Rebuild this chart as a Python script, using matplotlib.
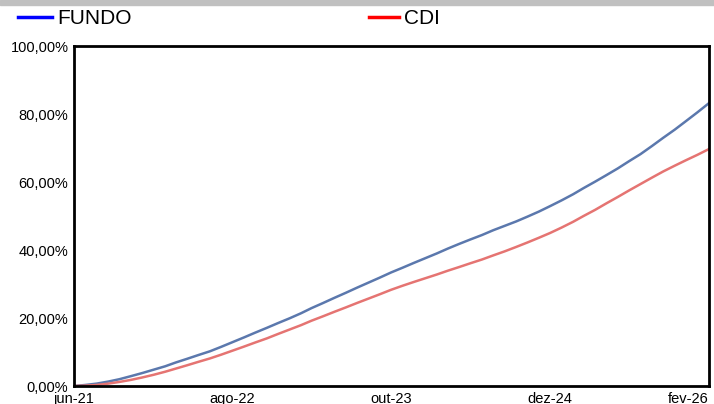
import numpy as np
import pandas as pd
import matplotlib
matplotlib.use('Agg')
import matplotlib.pyplot as plt
from matplotlib.lines import Line2D
from matplotlib.ticker import FuncFormatter

plt.rcParams['font.family'] = ['Liberation Sans', 'DejaVu Sans']

# retorno acumulado mensal (%), jun-21 ate fev-26
meses = pd.date_range('2021-06-01', '2026-02-01', freq='MS')
fundo = [0.0, 0.3, 0.7, 1.3, 2.0, 2.9, 3.8, 4.8, 5.8, 6.9,
         8.0, 9.1, 10.2, 11.5, 12.9, 14.3, 15.7, 17.1, 18.5, 19.9,
         21.4, 22.9, 24.4, 25.9, 27.4, 28.9, 30.4, 31.9, 33.4, 34.8,
         36.2, 37.6, 39.0, 40.4, 41.8, 43.1, 44.4, 45.8, 47.1, 48.4,
         49.8, 51.3, 52.9, 54.6, 56.4, 58.2, 60.1, 62.0, 64.0, 66.1,
         68.2, 70.6, 73.0, 75.4, 77.9, 80.5, 83.2]
cdi = [0.0, 0.1, 0.3, 0.7, 1.2, 1.8, 2.5, 3.3, 4.2, 5.1,
       6.1, 7.1, 8.1, 9.2, 10.4, 11.6, 12.8, 14.0, 15.3, 16.6,
       17.9, 19.2, 20.5, 21.8, 23.1, 24.4, 25.7, 27.0, 28.3, 29.5,
       30.6, 31.7, 32.8, 33.9, 35.0, 36.1, 37.2, 38.4, 39.6, 40.9,
       42.2, 43.6, 45.0, 46.6, 48.3, 50.0, 51.8, 53.7, 55.6, 57.5,
       59.4, 61.3, 63.1, 64.8, 66.4, 68.0, 69.7]
xticks_datas = ['2021-06-01', '2022-08-01', '2023-10-01', '2024-12-01', '2026-02-01']
xticks_txt = ['jun-21', 'ago-22', 'out-23', 'dez-24', 'fev-26']

fig = plt.figure(figsize=(7.14, 4.04), dpi=100)
ax = fig.add_axes([74/714, 18/404, 635/714, 340/404])

# faixa cinza no topo
fig.patches.append(plt.Rectangle((0, 1-5/404), 1, 5/404, transform=fig.transFigure,
                                 color='#c0c0c0', zorder=0))

ax.plot(meses, fundo, color='#5b78ad', lw=1.8)
ax.plot(meses, cdi, color='#e57472', lw=1.8)

ax.set_xlim(meses[0], meses[-1])
ax.set_ylim(0, 100)
ax.set_yticks(np.arange(0, 101, 20))
ax.yaxis.set_major_formatter(FuncFormatter(lambda v, p: ('%.2f%%' % v).replace('.', ',')))
ax.set_xticks(pd.to_datetime(xticks_datas))
ax.set_xticklabels(xticks_txt)
ax.get_xticklabels()[-1].set_horizontalalignment('right')
ax.tick_params(length=0, labelsize=10.5, colors='black')
ax.tick_params(axis='x', pad=4)
ax.tick_params(axis='y', pad=4)
for s in ax.spines.values():
    s.set_linewidth(2)
    s.set_color('black')

h1 = Line2D([], [], color='blue', lw=2.5)
h2 = Line2D([], [], color='red', lw=2.5)
fig.legend([h1], ['FUNDO'], loc='center left', bbox_to_anchor=(18/714, 1-19/404),
           frameon=False, fontsize=15, handlelength=1.65, handletextpad=0.25,
           borderpad=0, borderaxespad=0)
fig.legend([h2], ['CDI'], loc='center left', bbox_to_anchor=(369/714, 1-19/404),
           frameon=False, fontsize=15, handlelength=1.45, handletextpad=0.25,
           borderpad=0, borderaxespad=0)

fig.savefig('out.png', dpi=100)
